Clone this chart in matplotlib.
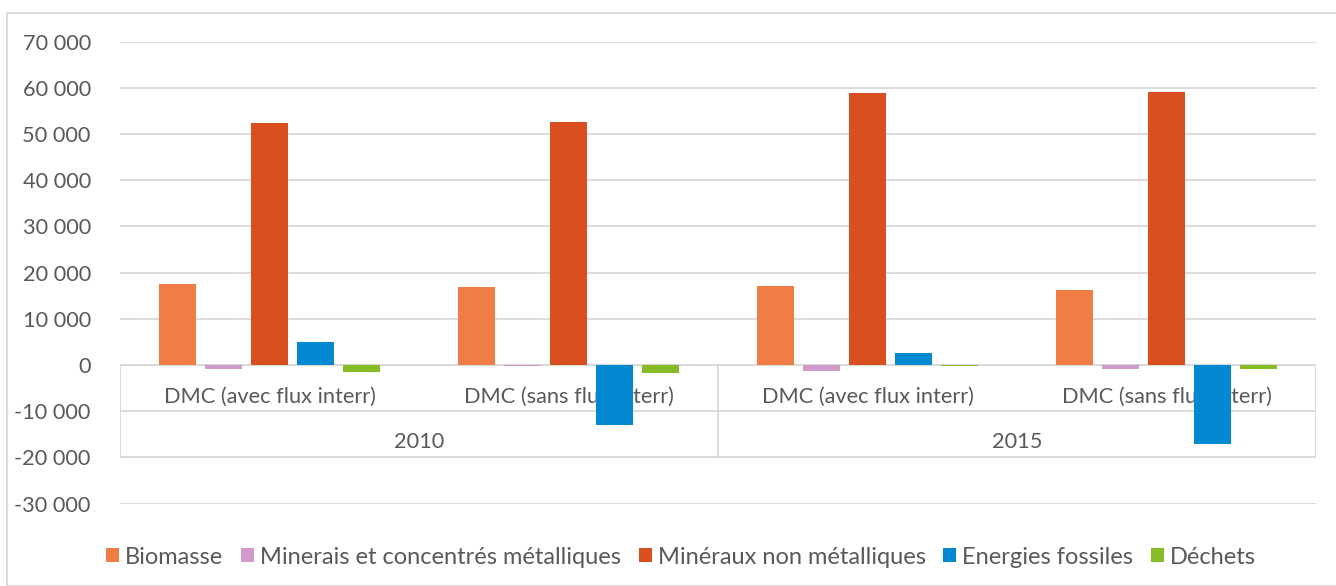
import numpy as np
import matplotlib.pyplot as plt
from matplotlib.patches import Patch, Rectangle
from matplotlib.ticker import FuncFormatter

plt.rcParams['font.family'] = ['Lato', 'DejaVu Sans']

# DMC par type de matière, en kt
categories = ["DMC (avec flux interr)", "DMC (sans flux interr)",
              "DMC (avec flux interr)", "DMC (sans flux interr)"]
years = ["2010", "2015"]
series = ["Biomasse", "Minerais et concentrés métalliques",
          "Minéraux non métalliques", "Energies fossiles", "Déchets"]
biomasse = [17500, 17000, 17100, 16300]
minerais = [-800, -300, -1200, -800]
mineraux = [52400, 52700, 58900, 59100]
energies = [5000, -13000, 2600, -17100]
dechets = [-1500, -1700, -300, -800]
values = [biomasse, minerais, mineraux, energies, dechets]
colors = ["#EF7D45", "#D29ACB", "#DA4F1F", "#0289D1", "#86BC26"]

text_color = "#595959"
grid_color = "#D9D9D9"
fs = 15.7
fs_leg = 17

W, H = 1336, 586
fig = plt.figure(figsize=(W / 100, H / 100), dpi=100)
ax = fig.add_axes([120 / W, 1 - 503.6 / H, 1196 / W, (503.6 - 41.7) / H])

x = np.arange(len(categories))
width = 0.124
step = 0.154
for i, (vals, col) in enumerate(zip(values, colors)):
    ax.bar(x + (i - 2) * step, vals, width, color=col, zorder=3)

ax.set_xlim(-0.5, len(categories) - 0.5)
ax.set_ylim(-30000, 70000)
ax.set_yticks(np.arange(-30000, 70001, 10000))
ax.yaxis.set_major_formatter(FuncFormatter(lambda v, p: f"{int(v):,}".replace(",", " ")))
ax.tick_params(axis='y', length=0, pad=21, labelsize=fs, labelcolor=text_color)
ax.set_xticks([])
for s in ax.spines.values():
    s.set_visible(False)
ax.yaxis.grid(True, color=grid_color, linewidth=1.3, zorder=0)
ax.set_axisbelow(True)

# two-level category table under the zero line
ax.axhline(0, color=grid_color, linewidth=1.3, zorder=2)
for xv in [-0.5, 1.5, 3.5]:
    ax.plot([xv, xv], [0, -20000], color=grid_color, linewidth=1.3, zorder=2)
for xi, lab in zip(x, categories):
    ax.text(xi, -6900, lab, ha='center', va='center', fontsize=fs,
            color=text_color, zorder=2)
for j, yr in enumerate(years):
    ax.text(2 * j + 0.5, -16700, yr, ha='center', va='center', fontsize=fs,
            color=text_color, zorder=2)

# outer chart frame
fig.patches.append(Rectangle((7 / W, 0), 1, 1 - 12.5 / H, transform=fig.transFigure,
                             fill=False, edgecolor=grid_color, linewidth=1.3))

handles = [Patch(facecolor=c, edgecolor='none') for c in colors]
fig.legend(handles, series, loc='center', bbox_to_anchor=(681 / W, 1 - 557 / H),
           ncol=5, frameon=False, fontsize=fs_leg, labelcolor=text_color,
           handlelength=0.55, handleheight=0.55, handletextpad=0.25,
           columnspacing=0.75, borderaxespad=0)

fig.savefig("out.png", dpi=100)
